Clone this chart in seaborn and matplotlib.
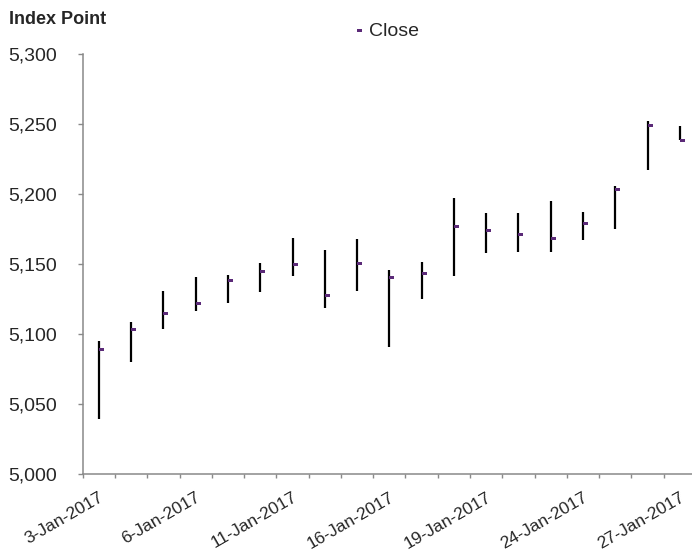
import numpy as np
import matplotlib
matplotlib.use('Agg')
import matplotlib.pyplot as plt
from matplotlib.path import Path
from matplotlib.lines import Line2D
import seaborn as sns
import pandas as pd

# trading days, January 2017
dates = ['3-Jan-2017', '4-Jan-2017', '5-Jan-2017', '6-Jan-2017', '9-Jan-2017',
         '10-Jan-2017', '11-Jan-2017', '12-Jan-2017', '13-Jan-2017', '16-Jan-2017',
         '17-Jan-2017', '18-Jan-2017', '19-Jan-2017', '20-Jan-2017', '23-Jan-2017',
         '24-Jan-2017', '25-Jan-2017', '26-Jan-2017', '27-Jan-2017']
high = [5095.2, 5108.6, 5130.9, 5140.7, 5142.1, 5150.9, 5169.0, 5160.0, 5167.9, 5145.9,
        5151.4, 5197.1, 5186.9, 5186.4, 5195.0, 5187.1, 5205.7, 5252.7, 5248.8]
low = [5039.3, 5080.0, 5103.8, 5116.4, 5122.6, 5130.0, 5141.9, 5119.0, 5130.9, 5091.2,
       5125.5, 5141.4, 5158.1, 5158.8, 5158.6, 5167.6, 5175.0, 5217.3, 5238.5]
close = [5089.0, 5103.8, 5115.2, 5122.1, 5138.6, 5145.2, 5150.0, 5127.6, 5150.4, 5140.4,
         5143.1, 5176.9, 5174.5, 5171.6, 5168.3, 5179.3, 5203.6, 5248.9, 5238.6]
yticks = [5000, 5050, 5100, 5150, 5200, 5250, 5300]
label_every = 3

df = pd.DataFrame({'date': dates, 'high': high, 'low': low, 'close': close})
df['pos'] = np.arange(len(df))

sns.set_style('white')
plt.rcParams['font.family'] = ['Liberation Sans', 'DejaVu Sans']

axis_grey = '#898989'
purple = '#5b2a78'

# close tick: small dash sticking out to the right of the bar
close_marker = Path([(0, -0.3), (1, -0.3), (1, 0.3), (0, 0.3), (0, -0.3)])

fig = plt.figure(figsize=(6.92, 5.56), dpi=100)
ax = fig.add_axes([0.1195, 0.1469, 0.8863, 0.7554])

# high-low bars
ax.vlines(df['pos'], df['low'], df['high'], color='black', linewidth=1.6, zorder=2)
# close
sns.scatterplot(data=df, x='pos', y='close', marker=close_marker, s=52,
                color=purple, edgecolor='none', linewidth=0, ax=ax, zorder=3,
                legend=False)

ax.set_xlim(-0.5, len(df) - 0.5)
ax.set_ylim(yticks[0], yticks[-1])
ax.set_yticks(yticks)
ax.set_yticklabels([f'{v:,}' for v in yticks], fontsize=14)

ax.set_xticks(df['pos'][::label_every])
ax.set_xticklabels(df['date'][::label_every], rotation=30, ha='right', va='top',
                   rotation_mode='anchor', fontsize=12.5)
ax.set_xticks(np.arange(len(df)) - 0.5, minor=True)
ax.tick_params(axis='x', which='major', length=0, pad=11)
ax.tick_params(axis='x', which='minor', length=3.2, width=1, color=axis_grey,
               direction='out', bottom=True)
ax.tick_params(axis='y', length=3.8, width=1, color=axis_grey, direction='out',
               left=True, pad=15)
ax.set_xlabel('')
ax.set_ylabel('')

for side in ['top', 'right']:
    ax.spines[side].set_visible(False)
for side in ['left', 'bottom']:
    ax.spines[side].set_color(axis_grey)
    ax.spines[side].set_linewidth(1.1)

fig.text(0.013, 0.965, 'Index Point', fontsize=13, fontweight='bold',
         ha='left', va='center')

handle = Line2D([], [], linestyle='', marker=close_marker, markersize=7.2,
                color=purple, markeredgewidth=0)
fig.legend([handle], ['Close'], loc='center', bbox_to_anchor=(0.557, 0.943),
           frameon=False, fontsize=14, handlelength=0.5, handletextpad=0.35,
           borderpad=0)

fig.savefig('out.png', dpi=100)
